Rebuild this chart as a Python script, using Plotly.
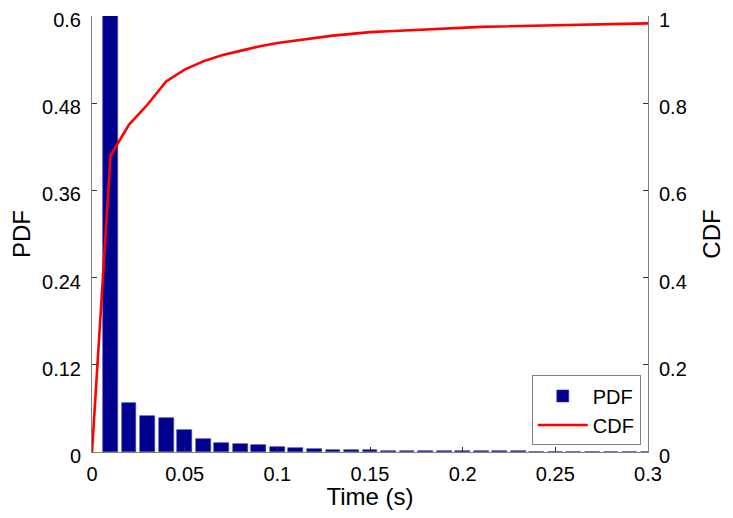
import plotly.graph_objects as go

# ---- data ----
bar_x = [round(0.01 * i, 2) for i in range(1, 31)]
pdf_vals = [0.68, 0.068, 0.050, 0.0466, 0.030, 0.0175, 0.0129, 0.0106, 0.0092, 0.0069,
            0.0051, 0.0037, 0.0032, 0.0028, 0.0023, 0.0020, 0.0018, 0.0014, 0.0012, 0.0010,
            0.0009, 0.0008, 0.0007, 0.0006, 0.0006, 0.0005, 0.0005, 0.0004, 0.0004, 0.0004]

cdf_x = [round(0.01 * i, 2) for i in range(0, 31)]
cdf_vals = [0.0, 0.680, 0.751, 0.797, 0.850, 0.877, 0.896, 0.910, 0.920, 0.930, 0.938,
            0.944, 0.949, 0.955, 0.959, 0.963, 0.965, 0.967, 0.970, 0.971, 0.974,
            0.975, 0.976, 0.977, 0.978, 0.979, 0.980, 0.980, 0.981, 0.982, 0.983]

x_ticks = [0, 0.05, 0.1, 0.15, 0.2, 0.25, 0.3]
x_labels = ["0", "0.05", "0.1", "0.15", "0.2", "0.25", "0.3"]
pdf_ticks = [0, 0.12, 0.24, 0.36, 0.48, 0.6]
pdf_labels = ["0", "0.12", "0.24", "0.36", "0.48", "0.6"]
cdf_ticks = [0, 0.2, 0.4, 0.6, 0.8, 1]
cdf_labels = ["0", "0.2", "0.4", "0.6", "0.8", "1"]

FONT = "Liberation Sans, Arial, sans-serif"
AXC = "#808080"

fig = go.Figure()
fig.add_trace(go.Bar(
    x=bar_x, y=pdf_vals, name="PDF", width=0.008,
    marker=dict(color="#00008F", line=dict(color="#3a3aa8", width=0.6)),
    yaxis="y",
))
fig.add_trace(go.Scatter(
    x=cdf_x, y=cdf_vals, name="CDF", mode="lines",
    line=dict(color="#FF0000", width=2.6),
    yaxis="y2",
))

fig.update_layout(
    width=717, height=502,
    margin=dict(l=84, r=77, t=8, b=58),
    paper_bgcolor="white", plot_bgcolor="white",
    font=dict(family=FONT, size=20, color="black"),
    bargap=0,
    xaxis=dict(
        range=[0, 0.3], tickvals=x_ticks, ticktext=x_labels, automargin=False,
        ticks="inside", ticklen=5, tickcolor="#333", showgrid=False, zeroline=False,
        showline=True, linecolor=AXC, linewidth=1, mirror=False,
        ticklabelstandoff=4, ticklabeloverflow="allow",
        title=dict(text="Time (s)", standoff=4),
    ),
    yaxis=dict(
        range=[0, 0.6], tickvals=pdf_ticks, ticktext=pdf_labels, automargin=False,
        ticks="inside", ticklen=5, tickcolor="#333", showgrid=False, zeroline=False,
        showline=True, linecolor=AXC, linewidth=1,
        ticklabelstandoff=6, ticklabeloverflow="allow", ticklabelshift=4,
        title=dict(text="PDF", standoff=10),
    ),
    yaxis2=dict(
        range=[0, 1], tickvals=cdf_ticks, ticktext=cdf_labels, automargin=False,
        overlaying="y", side="right",
        ticks="inside", ticklen=5, tickcolor="#333", showgrid=False, zeroline=False,
        showline=True, linecolor=AXC, linewidth=1,
        ticklabelstandoff=6, ticklabeloverflow="allow", ticklabelshift=4,
        title=dict(text="CDF", standoff=18),
    ),
    legend=dict(
        x=0.987, y=0.015, xanchor="right", yanchor="bottom",
        bgcolor="white", bordercolor=AXC, borderwidth=1,
        font=dict(size=20), traceorder="normal", itemwidth=50,
    ),
    showlegend=True,
)

fig.write_html("out.html")
